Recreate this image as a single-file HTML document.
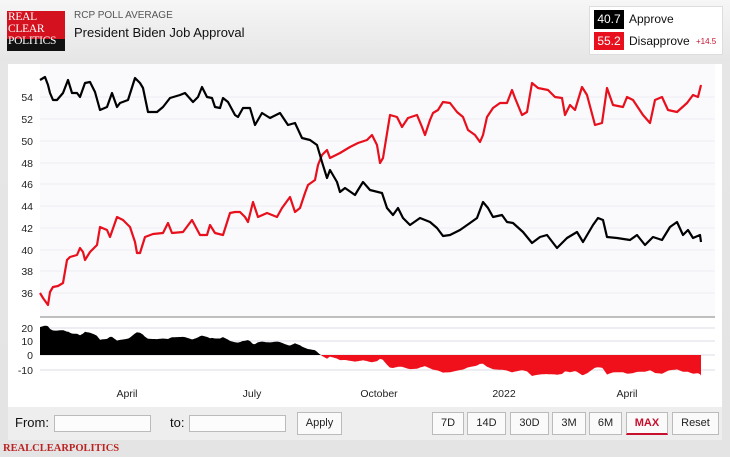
<!DOCTYPE html>
<html><head><meta charset="utf-8"><style>
body{margin:0;width:730px;height:457px;overflow:hidden;background:linear-gradient(#f6f6f6,#e6e6e6 60px,#e4e4e4);font-family:"Liberation Sans",sans-serif;position:relative}
.a{position:absolute}
.btn{position:absolute;top:412px;height:21px;border:1px solid #bbb;background:#fafafa;font-size:11px;line-height:21px;text-align:center;color:#222}
.inp{position:absolute;top:415px;height:15px;border:1px solid #bbb;background:#fcfcfc}
</style></head><body>
<div class="a" style="left:7px;top:11px;width:58px;height:28px;background:#d4111e"></div>
<div class="a" style="left:7px;top:39px;width:58px;height:12px;background:#111"></div>
<div class="a" style="left:8px;top:11px;font-family:'Liberation Serif',serif;font-size:11.5px;line-height:12px;color:#fff;letter-spacing:-0.3px">REAL<br>CLEAR<br>POLITICS</div>
<div class="a" style="left:74px;top:10px;font-size:10px;color:#555">RCP POLL AVERAGE</div>
<div class="a" style="left:74px;top:25px;font-size:13px;color:#111">President Biden Job Approval</div>
<div class="a" style="left:589px;top:6px;width:132px;height:47px;background:#fff;border:1px solid #ddd"></div>
<div class="a" style="left:594px;top:10px;width:30px;height:19px;background:#000;color:#fff;font-size:12px;line-height:19px;text-align:center">40.7</div>
<div class="a" style="left:629px;top:12px;font-size:12px;color:#111">Approve</div>
<div class="a" style="left:594px;top:32px;width:30px;height:18px;background:#e8101c;color:#fff;font-size:12px;line-height:18px;text-align:center">55.2</div>
<div class="a" style="left:629px;top:34px;font-size:12px;color:#111">Disapprove</div>
<div class="a" style="left:696px;top:37px;font-size:8px;color:#c8102e">+14.5</div>
<div class="a" style="left:8px;top:64px;width:714px;height:343px;background:#fff"></div>
<div class="a" style="left:8px;top:407px;width:714px;height:33px;background:#eeeeee"></div>
<svg class="a" style="left:0;top:0" width="730" height="457" id="s"></svg>
<div class="a" style="left:15px;top:415px;font-size:13px;color:#111">From:</div>
<div class="inp" style="left:54px;width:95px"></div>
<div class="a" style="left:170px;top:415px;font-size:13px;color:#111">to:</div>
<div class="inp" style="left:189px;width:95px"></div>
<div class="btn" style="left:297px;width:43px">Apply</div>
<div class="btn" style="left:432px;width:30px">7D</div>
<div class="btn" style="left:467px;width:37px">14D</div>
<div class="btn" style="left:510px;width:37px">30D</div>
<div class="btn" style="left:552px;width:32px">3M</div>
<div class="btn" style="left:589px;width:31px">6M</div>
<div class="btn" style="left:626px;width:40px;color:#c8102e;font-weight:bold;border-bottom:2px solid #c8102e;height:20px">MAX</div>
<div class="btn" style="left:672px;width:45px">Reset</div>
<div class="a" style="left:3px;top:443px;font-family:'Liberation Serif',serif;font-size:10.5px;color:#b22;font-weight:bold">REALCLEARPOLITICS</div>
<script>
var B=[[40,80],[45,77],[48,85],[50,93],[53,100],[57,100],[63,93],[68,80],[72,93],[77,93],[80,97],[85,83],[90,82],[95,92],[100,110],[107,107],[112,93],[117,107],[120,103],[128,100],[135,78],[140,83],[143,88],[148,112],[157,112],[163,107],[170,98],[180,95],[185,93],[193,102],[198,97],[202,87],[207,97],[212,98],[215,107],[220,108],[223,98],[228,102],[235,115],[238,117],[243,108],[250,108],[255,125],[262,113],[270,118],[280,113],[288,125],[295,123],[302,138],[310,140],[317,145],[322,162],[327,178],[330,170],[337,182],[340,192],[345,188],[355,195],[358,190],[363,182],[370,190],[382,193],[387,208],[393,215],[398,208],[403,218],[410,225],[420,218],[430,222],[437,228],[443,236],[450,235],[460,230],[470,223],[477,218],[483,202],[488,208],[493,217],[502,215],[507,222],[513,223],[523,232],[532,243],[540,237],[547,235],[557,248],[567,238],[577,232],[583,242],[593,225],[598,218],[603,220],[607,237],[617,238],[630,240],[637,235],[645,245],[653,237],[662,240],[670,227],[677,222],[683,235],[688,230],[693,238],[700,235],[701,242]];
var R=[[40,293],[43,298],[48,305],[50,292],[53,287],[58,286],[63,283],[67,260],[70,257],[77,255],[80,248],[83,252],[85,260],[90,252],[97,245],[100,227],[107,230],[110,237],[117,217],[123,220],[130,227],[135,242],[137,253],[140,253],[145,237],[153,234],[163,233],[168,223],[172,233],[183,232],[192,220],[200,235],[207,235],[210,225],[215,233],[223,235],[230,213],[235,212],[240,212],[245,217],[248,222],[253,202],[258,217],[267,213],[277,217],[282,208],[290,197],[295,212],[300,208],[305,193],[308,185],[315,180],[318,165],[322,155],[327,150],[330,158],[340,153],[350,147],[358,143],[367,140],[372,135],[377,145],[380,163],[383,158],[390,115],[397,117],[402,127],[408,118],[417,115],[422,127],[425,135],[430,120],[433,113],[438,110],[443,102],[450,103],[457,112],[463,117],[468,130],[475,135],[480,142],[483,135],[487,117],[493,108],[500,103],[507,103],[512,90],[515,98],[522,115],[527,112],[532,83],[538,88],[548,90],[555,97],[562,98],[565,115],[570,105],[575,110],[582,87],[587,95],[595,125],[602,123],[607,88],[613,105],[623,107],[627,97],[633,100],[643,115],[650,123],[655,100],[662,97],[668,110],[677,112],[687,103],[693,95],[698,97],[701,85]];
function it(a,x){for(var i=1;i<a.length;i++)if(a[i][0]>=x){var p=a[i-1],q=a[i];return p[1]+(q[1]-p[1])*(x-p[0])/((q[0]-p[0])||1);}return a[a.length-1][1];}
var h='';
var gy=[[54,97],[52,119],[50,141],[48,163],[46,184],[44,206],[42,228],[40,250],[38,271],[36,293]];
gy.forEach(function(g){h+='<line x1="40" x2="715" y1="'+g[1]+'" y2="'+g[1]+'" stroke="#dcdce6"/><text x="33" y="'+(g[1]+4)+'" font-size="10.5" text-anchor="end" fill="#222" font-family="Liberation Sans">'+g[0]+'</text>';});
h+='<rect x="40" y="64" width="675" height="252" fill="#f7f7fc" opacity="0.6"/>';
h+='<line x1="40" x2="715" y1="317" y2="317" stroke="#999" stroke-width="1.2"/>';
[[20,328],[10,341],[0,355],[-10,370]].forEach(function(g){h+='<line x1="40" x2="715" y1="'+g[1]+'" y2="'+g[1]+'" stroke="#dcdce6"/><text x="33" y="'+(g[1]+4)+'" font-size="10.5" text-anchor="end" fill="#222" font-family="Liberation Sans">'+g[0]+'</text>';});
var d='M40,355';for(var x=40;x<=701;x++){var s=(it(R,x)-it(B,x))*0.131;d+='L'+x+','+(355-s).toFixed(1);}d+='L701,355Z';
h+='<clipPath id="u"><rect x="0" y="0" width="730" height="355"/></clipPath><clipPath id="l"><rect x="0" y="355" width="730" height="100"/></clipPath>';
h+='<path d="'+d+'" fill="#000" clip-path="url(#u)"/><path d="'+d+'" fill="#f0101c" clip-path="url(#l)"/>';
function pl(a,c){return '<polyline fill="none" stroke="'+c+'" stroke-width="2.2" stroke-linejoin="round" points="'+a.map(function(p){return p.join(',')}).join(' ')+'"/>';}
h+=pl(R,'#e8101c')+pl(B,'#000');
[['April',127],['July',252],['October',379],['2022',504],['April',627]].forEach(function(t){h+='<text x="'+t[1]+'" y="397" font-size="10.5" text-anchor="middle" fill="#222" font-family="Liberation Sans">'+t[0]+'</text>';});
document.getElementById('s').innerHTML=h;
</script>
</body></html>
